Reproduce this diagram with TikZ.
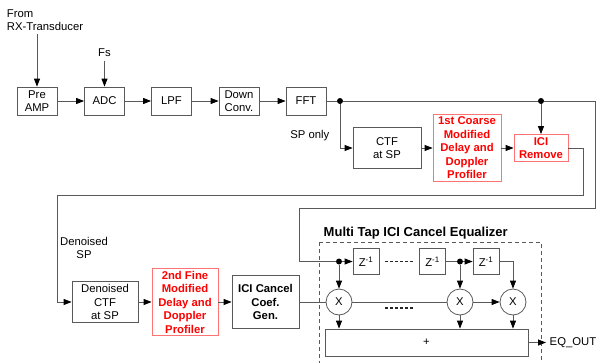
\documentclass[tikz,border=0pt]{standalone}
\usepackage{fontspec}
\setmainfont{Liberation Sans}
\usetikzlibrary{arrows.meta,positioning}

\begin{document}
\begin{tikzpicture}[
  x=1pt, y=-1pt,
  font=\fontsize{11.3}{13.5}\selectfont,
  line width=0.8pt,
  wire/.style={draw=black!65},
  arr/.style={wire, -{Triangle[length=8pt,width=6pt,color=black]}},
  blk/.style={
    draw=black!65, align=center, inner sep=0.5pt,
    minimum width=40pt, minimum height=28pt
  },
  redblk/.style={
    blk, draw=red!55, text=red,
    font=\fontsize{11.3}{13.5}\selectfont\bfseries
  },
  delay/.style={blk, minimum width=26pt, minimum height=26pt},
  mult/.style={circle, draw=black!65, minimum size=26pt, inner sep=0pt},
  junc/.style={circle, fill=black, inner sep=0pt, minimum size=6pt},
  lbl/.style={align=center},
  gap/.style={draw=black!85, line width=1.3pt, dash pattern=on 3pt off 2pt},
]
\useasboundingbox (0,0) rectangle (603,362);

% =========================== receiver front end ===========================
\node[lbl, align=left] (src) at (45,20) {From\\RX-Transducer};
\node (fs) at (104.5,53) {Fs};

\node[blk] (preamp) at (37,101)    {Pre\\AMP};
\node[blk] (adc)    at (104.5,101) {ADC};
\node[blk] (lpf)    at (171.5,101) {LPF};
\node[blk] (down)   at (239,101)   {Down\\Conv.};
\node[blk] (fft)    at (306,101)   {FFT};

\draw[arr] (src.south -| preamp.north) -- (preamp.north);
\draw[arr] (fs) -- (adc);
\foreach \a/\b in {preamp/adc, adc/lpf, lpf/down, down/fft}{
  \draw[arr] (\a) -- (\b);
}

% =========================== coarse estimation ============================
\node[junc] (j1) at (340,101) {};
\node[junc] (j2) at (541,101) {};

\node[anchor=east] (sponly) at (333,136) {SP only};
\node[blk, minimum width=68pt, minimum height=41pt] (ctf) at (387,148)
  {CTF\\at SP};
\node[redblk, minimum width=68pt, minimum height=67pt] (coarse) at (467,148)
  {1st Coarse\\Modified\\Delay and\\Doppler\\Profiler};
\node[redblk, minimum width=54pt, minimum height=27pt] (iciremove) at (541,148)
  {ICI\\Remove};

\draw[arr] (j1) |- (ctf.west);
\draw[arr] (ctf) -- (coarse);
\draw[arr] (coarse) -- (iciremove);
\draw[arr] (j2) -- (iciremove);

% raw FFT output round to the equalizer
\coordinate (rawR) at (595,101);
\coordinate (rawL) at (299,208);
% denoised SP back to the fine estimation
\coordinate (dnR) at (583,195);
\coordinate (dnL) at (57,195);

% =========================== fine estimation ==============================
\node[lbl] (dnsp) at (84,248) {Denoised\\SP};

\node[blk, minimum width=66pt, minimum height=41pt] (dctf) at (105,302)
  {Denoised\\CTF\\at SP};
\node[redblk, minimum width=66pt, minimum height=67pt] (fine) at (185,302)
  {2nd Fine\\Modified\\Delay and\\Doppler\\Profiler};
\node[blk, font=\fontsize{11.3}{13.5}\selectfont\bfseries,
      minimum width=67pt, minimum height=53pt] (coef) at (265.5,302)
  {ICI Cancel\\Coef.\\Gen.};

\draw[arr] (iciremove.east) -| (dnR) -- (dnL) |- (dctf.west);
\draw[arr] (dctf) -- (fine);
\draw[arr] (fine) -- (coef);

% =========================== equalizer ====================================
\node[anchor=west, font=\fontsize{13}{15}\selectfont\bfseries] (eqtitle)
  at (320,233) {Multi Tap ICI Cancel Equalizer};
\draw[draw=black!65, dash pattern=on 4pt off 3pt] (319,242) rectangle (541,372);

\node[junc] (tap1) at (339,261.5) {};
\node[junc] (tap2) at (460,261.5) {};
\foreach \n/\x in {1/366, 2/432.5, 3/486}{
  \node[delay] (z\n) at (\x,261.5) {Z\textsuperscript{-1}};
}
\foreach \n/\x in {1/339, 2/460, 3/513}{
  \node[mult] (m\n) at (\x,302) {X};
}
\node[blk, minimum width=203pt, minimum height=27pt] (adder) at (426.5,342.5) {+};
\node[anchor=west] (eqout) at (546,342.5) {EQ\_OUT};

\draw[wire] (fft) -- (j1) -- (j2) -- (rawR) |- (rawL) |- (tap1);
\draw[arr] (tap1) -- (z1);
\draw[gap] ([xshift=6pt]z1.east) -- ([xshift=-6pt]z2.west);
\draw[wire] (z2) -- (tap2);
\draw[arr] (tap2) -- (z3);
\draw[arr] (z3.east) -| (m3.north);
\draw[arr] (tap1) -- (m1);
\draw[arr] (tap2) -- (m2);

\draw[wire] (coef) -- (m1);
\draw[wire] (m1) -- (m2);
\draw[gap] ([xshift=33pt,yshift=-6pt]m1.east) -- ([xshift=-32pt,yshift=-6pt]m2.west);
\draw[arr] (m2) -- (m3);
\foreach \n in {1,2,3}{
  \draw[arr] (m\n) -- (m\n |- adder.north);
}
\draw[arr] (adder) -- (eqout);

\end{tikzpicture}
\end{document}
